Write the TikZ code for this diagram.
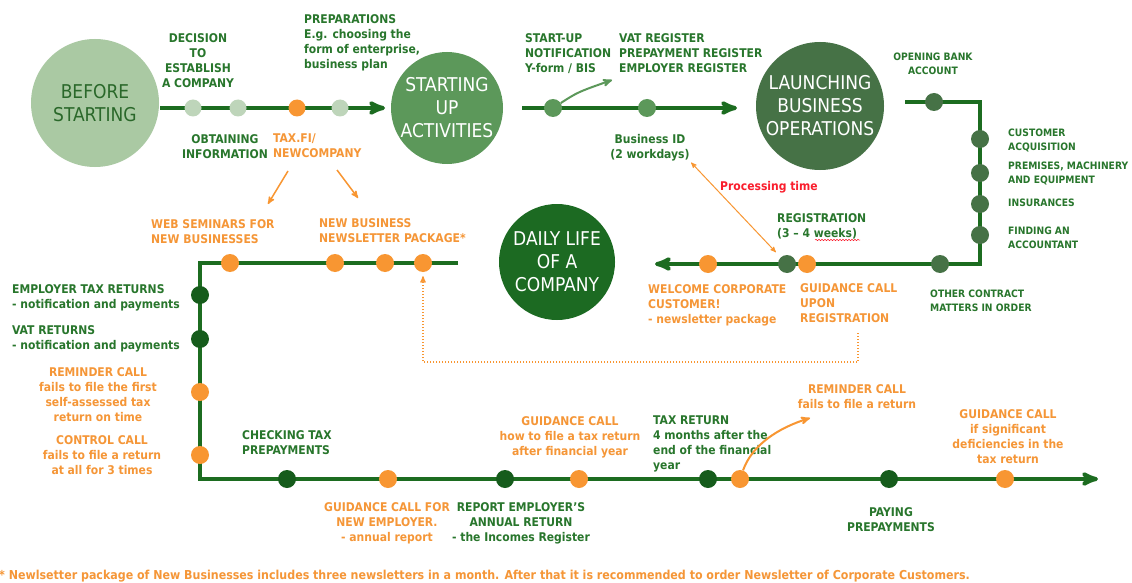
\documentclass[tikz,border=0pt]{standalone}
\usepackage{fontspec}
\setmainfont{DejaVuSansCondensed}[Extension=.ttf,BoldFont=DejaVuSansCondensed-Bold]
\usetikzlibrary{arrows}
\usetikzlibrary{decorations.pathmorphing}

\definecolor{txtgreen}{RGB}{40,118,44}
\definecolor{txtorange}{RGB}{245,150,55}
\definecolor{linegreen}{RGB}{28,108,32}
\definecolor{palegreen}{RGB}{170,201,163}
\definecolor{palegreendot}{RGB}{190,213,186}
\definecolor{midgreen}{RGB}{92,152,90}
\definecolor{greygreen}{RGB}{70,114,70}
\definecolor{darkgreen}{RGB}{28,106,34}
\definecolor{dotgreen}{RGB}{22,92,28}
\definecolor{dotorange}{RGB}{248,150,50}
\definecolor{procred}{RGB}{250,30,45}
\definecolor{stagetxt}{RGB}{42,104,42}

\begin{document}
\begin{tikzpicture}[x=1pt,y=-1pt,
>=stealth',
font=\bfseries\fontsize{12}{15}\selectfont,
gtext/.style={text=txtgreen,inner sep=0pt,align=left},
otext/.style={text=txtorange,inner sep=0pt,align=left},
smalltext/.style={font=\bfseries\fontsize{10.2}{13.5}\selectfont}]
\tikzstyle{stage} = [circle, inner sep=0pt, align=center, font=\fontsize{19}{23}\selectfont]
\tikzstyle{dot} = [circle, inner sep=0pt, minimum size=18pt]
\tikzstyle{route} = [draw=linegreen, line width=4pt]
\tikzstyle{thinarrow} = [->, draw=dotorange, line width=1.5pt]

\useasboundingbox[fill=white] (0,0) rectangle (1132,583);

% the four stages
\node[stage, fill=palegreen, text=stagetxt, minimum size=128pt](before) at (95,103){BEFORE\\STARTING};
\node[stage, fill=midgreen, text=white, minimum size=112pt](startup) at (447,108){STARTING\\UP\\ACTIVITIES};
\node[stage, fill=greygreen, text=white, minimum size=128pt](launch) at (820,106){LAUNCHING\\BUSINESS\\OPERATIONS};
\node[stage, fill=darkgreen, text=white, minimum size=116pt](daily) at (557,262){DAILY LIFE\\OF A\\COMPANY};

% before starting -> starting up
\coordinate (a0) at (160,108);
\coordinate (a5) at (385,108);
\draw[route,->] (a0) -- (a5);
\foreach \x/\c [count=\i] in {193/palegreendot,238/palegreendot,297/dotorange,340/palegreendot}
	\node[dot,fill=\c,minimum size=17pt](a\i) at (\x,108){};

% starting up -> launching
\coordinate (b0) at (522,108);
\coordinate (b3) at (737,108);
\draw[route,->] (b0) -- (b3);
\node[dot,fill=midgreen](b1) at (553,108){};
\node[dot,fill=midgreen](b2) at (647,108){};
\coordinate (bup) at (612,80);
\draw[->,draw=midgreen,line width=2pt] (b1) .. controls (578,92) .. (bup);

% launching -> daily life
\coordinate (c0) at (905,102);
\coordinate (c1) at (980,264);
\coordinate (c2) at (655,264);
\draw[route,->] (c0) -| (c1) -- (c2);
\node[dot,fill=greygreen](bank) at (934,102){};
\foreach \y [count=\i] in {139,173,204,235}
	\node[dot,fill=greygreen](v\i) at (980,\y){};
\node[dot,fill=greygreen](contract) at (940,264){};
\node[dot,fill=greygreen](reg) at (787,264){};
\node[dot,fill=dotorange](guid) at (807,264){};
\node[dot,fill=dotorange](welcome) at (708,264){};

% daily life loop
\coordinate (d0) at (458,263);
\coordinate (d1) at (200,479);
\coordinate (d2) at (1098,479);
\draw[route,->] (d0) -| (d1) -- (d2);
\foreach \x [count=\i] in {230,335,385,423}
	\node[dot,fill=dotorange](t\i) at (\x,263){};
\foreach \y/\c [count=\i] in {295/dotgreen,339/dotgreen,392/dotorange,455/dotorange}
	\node[dot,fill=\c](l\i) at (200,\y){};
\foreach \x/\c [count=\i] in {287/dotgreen,388/dotorange,505/dotgreen,579/dotorange,708/dotgreen,740/dotorange,889/dotgreen,1005/dotorange}
	\node[dot,fill=\c](e\i) at (\x,479){};

% texts, first part
\node[gtext, anchor=north, align=center](decision) at (198,33){DECISION\\TO\\ESTABLISH\\A COMPANY};
\node[gtext, anchor=north west](prep) at (304,14){PREPARATIONS\\E.g. choosing the\\form of enterprise,\\business plan};
\node[gtext, anchor=north, align=center](obtain) at (225,134){OBTAINING\\INFORMATION};
\node[otext, anchor=north west](taxfi) at (273,134){TAX.FI/\\NEWCOMPANY};
\node[gtext, anchor=north west](notif) at (525,33){START-UP\\NOTIFICATION\\Y-form / BIS};
\node[gtext, anchor=north west](regs) at (619,33){VAT REGISTER\\PREPAYMENT REGISTER\\EMPLOYER REGISTER};
\node[gtext, anchor=north, align=center](busid) at (650,134){Business ID\\(2 workdays)};
\node[text=procred, inner sep=0pt](proc) at (769,187){Processing time};

\node[gtext, smalltext, anchor=north, align=center](bankt) at (933,53){OPENING BANK\\ACCOUNT};
\node[gtext, smalltext, anchor=north west](custt) at (1008,129){CUSTOMER\\ACQUISITION};
\node[gtext, smalltext, anchor=north west](premt) at (1008,162){PREMISES, MACHINERY\\AND EQUIPMENT};
\node[gtext, smalltext, anchor=north west](insurt) at (1008,199){INSURANCES};
\node[gtext, smalltext, anchor=north west](acct) at (1008,227){FINDING AN\\ACCOUNTANT};
\node[gtext, smalltext, anchor=north west](contt) at (930,290){OTHER CONTRACT\\MATTERS IN ORDER};
\node[gtext, anchor=north west](regt) at (777,213){REGISTRATION\\(3 -- 4 weeks)};
\draw[draw=procred, line width=0.5pt, decorate, decoration={snake,amplitude=0.7pt,segment length=3pt}] (815,240) -- (860,240);
\node[otext, anchor=north west](welcomet) at (648,284){WELCOME CORPORATE\\CUSTOMER!\\- newsletter package};
\node[otext, anchor=north west](guidregt) at (800,283){GUIDANCE CALL\\UPON\\REGISTRATION};

% texts, daily life
\node[otext, anchor=north west](webt) at (151,219){WEB SEMINARS FOR\\NEW BUSINESSES};
\node[otext, anchor=north west](newst) at (319,218){NEW BUSINESS\\NEWSLETTER PACKAGE*};
\node[gtext, anchor=north west](emptaxt) at (12,284){EMPLOYER TAX RETURNS\\- notification and payments};
\node[gtext, anchor=north west](vatt) at (12,325){VAT RETURNS\\- notification and payments};
\node[otext, anchor=north, align=center](remind1t) at (98,367){REMINDER CALL\\fails to file the first\\self-assessed tax\\return on time};
\node[otext, anchor=north, align=center](controlt) at (102,435){CONTROL CALL\\fails to file a return\\at all for 3 times};
\node[gtext, anchor=north west](checkt) at (242,430){CHECKING TAX\\PREPAYMENTS};
\node[otext, anchor=north, align=center](guidempt) at (387,502){GUIDANCE CALL FOR\\NEW EMPLOYER.\\- annual report};
\node[gtext, anchor=north, align=center](annualt) at (521,502){REPORT EMPLOYER'S\\ANNUAL RETURN\\- the Incomes Register};
\node[otext, anchor=north, align=center](guidfint) at (570,416){GUIDANCE CALL\\how to file a tax return\\after financial year};
\node[gtext, anchor=north west](taxrett) at (653,416){TAX RETURN\\4 months after the\\end of the financial\\year};
\node[otext, anchor=north, align=center](remind2t) at (857,384){REMINDER CALL\\fails to file a return};
\node[otext, anchor=north, align=center](guiddeft) at (1008,409){GUIDANCE CALL\\if significant\\deficiencies in the\\tax return};
\node[gtext, anchor=north, align=center](payt) at (891,507){PAYING\\PREPAYMENTS};
\node[otext, anchor=west, font=\bfseries\fontsize{12.3}{14}\selectfont](foot) at (-1,576){* Newlsetter package of New Businesses includes three newsletters in a month. After that it is recommended to order Newsletter of Corporate Customers.};

% orange arrows
\coordinate (tx1) at (288,171);
\coordinate (tx2) at (268,204);
\coordinate (tx3) at (337,170);
\coordinate (tx4) at (358,198);
\draw[thinarrow] (tx1) -- (tx2);
\draw[thinarrow] (tx3) -- (tx4);
\draw[<->, draw=dotorange, line width=1pt, shorten >=7pt, shorten <=2pt] (busid.south east) -- (reg);
\coordinate (f0) at (858,333);
\coordinate (f1) at (423,362);
\draw[->, draw=dotorange, line width=1.3pt, dash pattern=on 1.3pt off 1.7pt, shorten >=4pt] (f0) |- (f1) -- (t4);
\coordinate (rup) at (810,418);
\draw[->, draw=dotorange, line width=2pt] (e6) .. controls (752,445) and (778,428) .. (rup);

\end{tikzpicture}
\end{document}
